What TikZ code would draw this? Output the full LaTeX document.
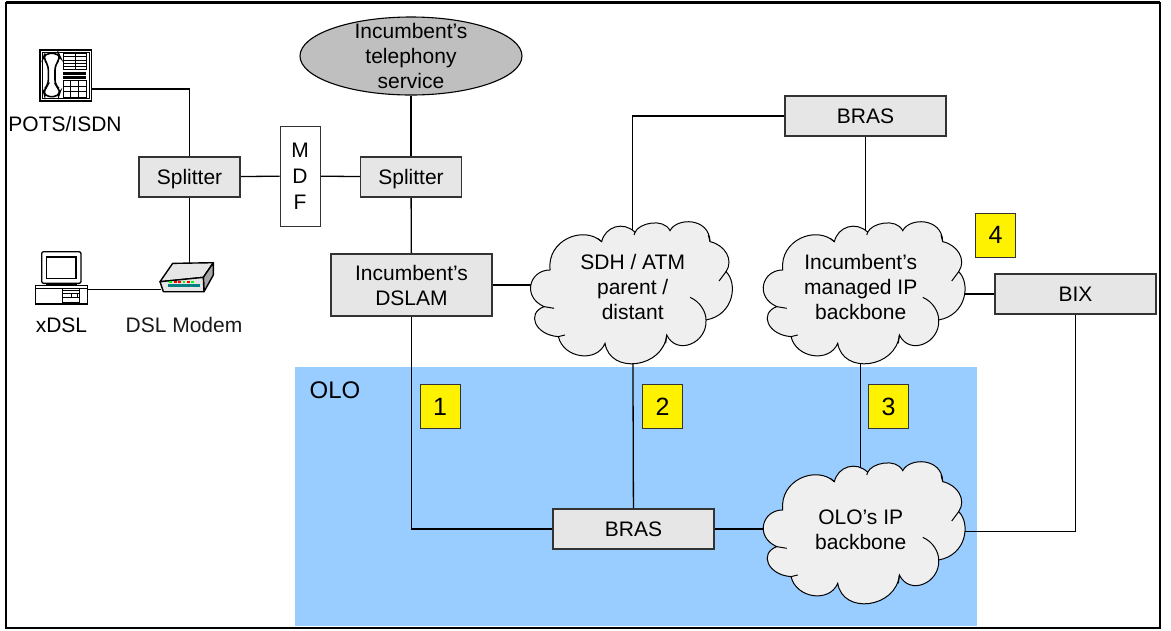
\documentclass[tikz,border=0pt]{standalone}
\usepackage{fontspec}
\setmainfont{Liberation Sans}
\usetikzlibrary{shapes.geometric,positioning,backgrounds}
\definecolor{boxgrey}{HTML}{E6E6E6}
\definecolor{cloudgrey}{HTML}{EFEFEF}
\definecolor{ellipsegrey}{HTML}{BFBFBF}
\definecolor{oloblue}{HTML}{99CCFF}
\tikzset{
    every node/.style={font=\fontsize{21}{25}\selectfont, align=center, inner sep=0pt},
    box node/.style={draw=black!80, fill=boxgrey, line width=1.1pt, minimum width=101pt, minimum height=40pt},
    wide node/.style={box node, minimum width=161pt},
    badge node/.style={draw=black!80, fill=yellow, line width=1pt, minimum width=40pt, minimum height=44pt,
      font=\fontsize{25}{28}\selectfont},
    link/.style={line width=1.3pt},
    zoomed/.style={x=0.3333pt, y=-0.3333pt},
    netcloud/.pic={
      \begin{scope}[zoomed, shift={(-338,-280)}, draw=black, line width=1pt]
        \path[draw, fill=cloudgrey] (345,97) .. controls (355,70) and (430,52) .. (450,92)
          .. controls (470,52) and (568,52) .. (570,125)
          .. controls (615,135) and (642,180) .. (618,215)
          .. controls (654,250) and (642,345) .. (558,360)
          .. controls (562,430) and (470,468) .. (440,405)
          .. controls (430,505) and (270,525) .. (255,430)
          .. controls (230,490) and (130,475) .. (115,410)
          .. controls (45,405) and (18,340) .. (72,320)
          .. controls (5,290) and (28,210) .. (90,210)
          .. controls (80,120) and (190,75) .. (245,125)
          .. controls (255,80) and (310,62) .. (345,97) -- cycle;
        \draw (618,215) -- (597,243);
        \draw (510,292) .. controls (540,305) and (558,335) .. (558,360);
        \draw (115,410) -- (135,405);
        \draw (72,320) -- (102,325);
        \draw (570,125) -- (565,105);
        \draw (440,405) -- (437,430);
        \draw (245,125) -- (232,115);
        \draw (345,97) -- (342,105);
      \end{scope}
    },
    phoneicon/.pic={
      \begin{scope}[zoomed, shift={(-120,-150)}, line width=0.6pt]
        \draw[fill=white, line width=1.5pt] (120,150) rectangle (274,303);
        \draw (127,157) rectangle (268,296);
        \draw[line width=1.6pt, rounded corners=5pt] (135,160) -- (175,160) -- (182,175) -- (165,195)
          -- (165,255) -- (182,270) -- (175,290) -- (135,290) -- (130,270) -- (145,255) -- (145,195) -- (130,175) -- cycle;
        \draw (190,160) rectangle (260,208) (225,160) -- (225,208);
        \foreach \y in {170,180,190,200}
          \draw (190,\y) -- (260,\y);
        \foreach \y in {216,220,224,228,232,236}
          \draw (190,\y) -- (258,\y);
        \draw (190,240) rectangle (260,292);
        \foreach \x in {212,235}
          \draw (\x,240) -- (\x,292);
        \foreach \y in {258,275}
          \draw (190,\y) -- (260,\y);
      \end{scope}
    },
    pcicon/.pic={
      \begin{scope}[zoomed, shift={(-107,-755)}, line width=0.7pt]
        \draw[fill=white, line width=1.3pt, rounded corners=2pt] (125,755) rectangle (243,850);
        \draw[line width=1.6pt] (140,770) rectangle (228,835);
        \draw[fill=black] (140,850) rectangle (230,857);
        \draw[fill=white, line width=1.3pt] (107,857) rectangle (262,912);
        \draw (107,866) -- (262,866);
        \draw (187,866) rectangle (238,908);
        \foreach \y in {872,880,893}
          \draw (187,\y) -- (238,\y);
        \draw (215,880) rectangle (232,893);
      \end{scope}
    },
    modemicon/.pic={
      \begin{scope}[zoomed, shift={(-480,-788)}, line width=1.4pt, line join=round]
        \draw[fill=boxgrey] (480,845) -- (518,790) -- (640,788) -- (610,832) -- cycle;
        \draw[fill=black!35] (610,832) -- (640,788) -- (640,825) -- (612,875) -- cycle;
        \draw[fill=boxgrey] (480,845) -- (610,832) -- (612,875) -- (490,875) -- cycle;
        \fill[teal] (505,853) rectangle (600,862);
        \foreach \x/\c in {512/green,526/red,539/red,552/green,565/red,578/green}
          \fill[\c] (\x-4,843) rectangle (\x+4,849);
      \end{scope}
    }
}
\begin{document}
\begin{tikzpicture}[x=1pt, y=-1pt]
  \useasboundingbox (0,0) rectangle (1171,630);

  \node[draw=black, fill=ellipsegrey, ellipse, line width=1.1pt, minimum width=222pt, minimum height=78pt] (telephony) at (411,56) {};
  \node at (telephony) {Incumbent’s\\telephony\\service};

  \node[box node, text depth=0pt] (splitterA) at (189.5,177) {Splitter};
  \node[box node, text depth=0pt] (splitterB) at (411,177) {Splitter};
  \node[draw=black!80, fill=white, line width=0.8pt, minimum width=40pt, minimum height=100pt,
    font=\fontsize{21}{26}\selectfont] (mdf) at (300,176) {M\\D\\F};
  \node[wide node, minimum height=62pt] (dslam) at (411.5,285) {Incumbent’s\\DSLAM};
  \node[wide node] (brasT) at (865.5,116) {BRAS};
  \node[wide node] (bix) at (1075.5,294) {BIX};
  \node[wide node] (brasB) at (633.5,529) {BRAS};

  \coordinate (phoneport) at (87,89);
  \coordinate (pcport) at (87,289.3);
  \coordinate (modemleft) at (161,289.3);
  \coordinate (modemtop) at (189.5,263);
  \coordinate (oloport) at (950,531.7);

  \pic at (632.7,293.3) {netcloud};
  \pic at (865.4,293.3) {netcloud};
  \pic at (865.4,533.3) {netcloud};
  \node (sdh) at (632.7,286.7) {SDH / ATM\\parent /\\distant};
  \node (managed) at (860.7,287.2) {Incumbent’s\\managed IP\\backbone};
  \node (oloip) at (860.7,529.3) {OLO’s IP\\backbone};

  \begin{scope}[on background layer]
    \fill[oloblue] (295,367) rectangle (977,626);
    \draw[link] (phoneport) -| (splitterA);
    \draw[link] (splitterA) -- (mdf);
    \draw[link] (mdf) -- (splitterB);
    \draw[link] (splitterA) -- (modemtop);
    \draw[link] (pcport) -- (modemleft);
    \draw[link] (telephony) -- (splitterB);
    \draw[link] (splitterB) -- (dslam);
    \draw[link] (dslam) -- (dslam -| sdh);
    \draw[link] (sdh) |- (brasT);
    \draw[link] (brasT) -- (brasT |- managed);
    \draw[link] (bix) -- (bix -| managed);
    \draw[link] (managed) -- (oloip);
    \draw[link] (sdh) -- (brasB);
    \draw[link] (dslam) |- (brasB);
    \draw[link] (brasB) -- (brasB -| oloip);
    \draw[link] (oloport) -| (bix);
  \end{scope}

  \foreach \i/\x/\y in {1/440/406.5, 2/662.5/406.5, 3/888.5/406.5, 4/995.5/235}
    \node[badge node] (badge\i) at (\x,\y) {\i};
  \node[font=\fontsize{24}{28}\selectfont] (olo) at (335,390) {OLO};

  \pic at (40,50) {phoneicon};
  \pic at (35.7,251.7) {pcicon};
  \pic at (160,262.7) {modemicon};
  \node (pots) at (65,124) {POTS/ISDN};
  \node (xdsl) at (61.5,325) {xDSL};
  \node[text=black!90] (modem) at (184,325) {DSL Modem};

  \draw[line width=2.4pt] (6,3) rectangle (1160,628);
  \draw[line width=3.4pt] (6,2.7) -- (1160,2.7);
\end{tikzpicture}
\end{document}
